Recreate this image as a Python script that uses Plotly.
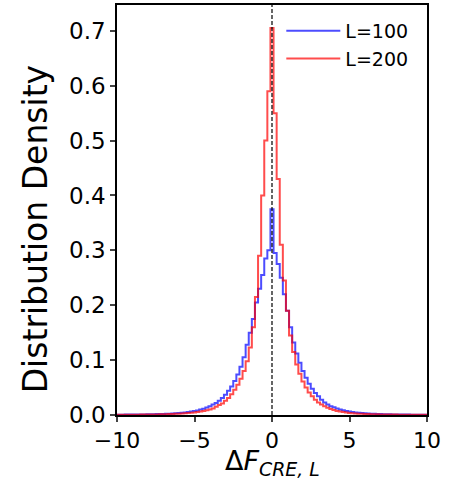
import numpy as np
import plotly.graph_objects as go

# Bin centres (width 0.2, centred on 0)
BIN_WIDTH = 0.2
CENTERS = np.round(np.arange(-10.0, 10.0001, BIN_WIDTH), 1)

# L=100 (blue) densities: centre bin, left side (from -0.2 outward), right side (from +0.2 outward)
BLUE_CENTER = 0.375
BLUE_LEFT = [0.30, 0.285, 0.255, 0.23, 0.205, 0.175, 0.15, 0.128, 0.105, 0.088,
             0.074, 0.062, 0.052, 0.044, 0.037, 0.031, 0.026, 0.022, 0.019, 0.016,
             0.0135, 0.0115, 0.0098, 0.0084, 0.0072, 0.0062, 0.0054, 0.0047, 0.0041, 0.0036,
             0.0032, 0.0028, 0.0025, 0.0022, 0.0020, 0.0018, 0.0016, 0.0014, 0.0013, 0.0012,
             0.0011, 0.0010, 0.0009, 0.0008, 0.0008, 0.0007, 0.0007, 0.0006, 0.0006, 0.0005]
BLUE_RIGHT = [0.295, 0.275, 0.25, 0.22, 0.19, 0.16, 0.132, 0.112, 0.095, 0.080,
              0.068, 0.057, 0.048, 0.040, 0.034, 0.028, 0.023, 0.019, 0.016, 0.014,
              0.012, 0.010, 0.0085, 0.0072, 0.0062, 0.0053, 0.0046, 0.0040, 0.0035, 0.0031,
              0.0027, 0.0024, 0.0021, 0.0019, 0.0017, 0.0015, 0.0014, 0.0012, 0.0011, 0.0010,
              0.0009, 0.0008, 0.0008, 0.0007, 0.0006, 0.0006, 0.0005, 0.0005, 0.0005, 0.0004]

# L=200 (red) densities
RED_CENTER = 0.705
RED_LEFT = [0.59, 0.50, 0.40, 0.29, 0.215, 0.16, 0.123, 0.098, 0.080, 0.066,
            0.055, 0.046, 0.038, 0.031, 0.026, 0.021, 0.018, 0.015, 0.012, 0.010,
            0.0085, 0.0072, 0.0062, 0.0053, 0.0046, 0.0040, 0.0035, 0.0031, 0.0027, 0.0024,
            0.0021, 0.0019, 0.0017, 0.0015, 0.0013, 0.0012, 0.0011, 0.0010, 0.0009, 0.0008,
            0.0007, 0.0007, 0.0006, 0.0006, 0.0005, 0.0005, 0.0004, 0.0004, 0.0004, 0.0003]
RED_RIGHT = [0.55, 0.43, 0.31, 0.245, 0.19, 0.145, 0.115, 0.092, 0.075, 0.061,
             0.050, 0.041, 0.034, 0.028, 0.023, 0.019, 0.016, 0.013, 0.011, 0.009,
             0.0075, 0.0063, 0.0053, 0.0045, 0.0038, 0.0033, 0.0029, 0.0025, 0.0022, 0.0019,
             0.0017, 0.0015, 0.0013, 0.0012, 0.0011, 0.0010, 0.0009, 0.0008, 0.0007, 0.0007,
             0.0006, 0.0006, 0.0005, 0.0005, 0.0004, 0.0004, 0.0004, 0.0003, 0.0003, 0.0003]

X_TICKS = [-10, -5, 0, 5, 10]
Y_TICKS = [0.0, 0.1, 0.2, 0.3, 0.4, 0.5, 0.6, 0.7]
X_TITLE = "Δ<i>F</i><sub><i>CRE, L</i></sub>"
Y_TITLE = "Distribution Density"

blue = BLUE_LEFT[::-1] + [BLUE_CENTER] + BLUE_RIGHT
red = RED_LEFT[::-1] + [RED_CENTER] + RED_RIGHT


def step_xy(centers, vals):
    edges = list(centers - BIN_WIDTH / 2) + [centers[-1] + BIN_WIDTH / 2]
    xs = [edges[0]] + edges + [edges[-1]]
    ys = [0] + list(vals) + [vals[-1], 0]
    return xs, ys


FONT = "DejaVu Sans"
fig = go.Figure()
for name, vals, col in [("L=100", blue, "rgba(0,0,255,0.7)"), ("L=200", red, "rgba(255,0,0,0.7)")]:
    xs, ys = step_xy(CENTERS, vals)
    fig.add_trace(go.Scatter(x=xs, y=ys, mode="lines", name=name,
                             line=dict(color=col, width=2, shape="hv")))

fig.add_shape(type="line", x0=0, x1=0, xref="x", y0=0, y1=1, yref="paper",
              line=dict(color="black", width=1.2, dash="4px,2px"), layer="above")

# Axis titles placed as annotations for precise positioning
fig.add_annotation(text=X_TITLE, xref="paper", yref="paper", x=0.5, y=-0.117,
                   xanchor="center", yanchor="middle", showarrow=False,
                   font=dict(size=27, family=FONT, color="black"))
fig.add_annotation(text=Y_TITLE, xref="paper", yref="paper", x=-0.263, y=0.454,
                   xanchor="center", yanchor="middle", showarrow=False, textangle=-90,
                   font=dict(size=33, family=FONT, color="black"))

fig.update_layout(
    width=464, height=493,
    margin=dict(l=117, r=37, t=5, b=78),
    plot_bgcolor="white", paper_bgcolor="white",
    font=dict(family=FONT, color="black", size=20),
    showlegend=True,
    legend=dict(x=0.53, y=0.983, xanchor="left", yanchor="top",
                bgcolor="rgba(255,255,255,0)", font=dict(size=19, family=FONT),
                itemwidth=54, tracegroupgap=0),
)
fig.update_xaxes(range=[-10, 10], tickvals=X_TICKS, ticks="outside", ticklen=5, tickwidth=1.5,
                 showline=True, linewidth=1.5, linecolor="black", mirror=True,
                 showgrid=False, zeroline=False, tickfont=dict(size=22), automargin=False)
fig.update_yaxes(range=[0, 0.747], tickvals=Y_TICKS, tickformat=".1f", ticks="outside",
                 ticklen=5, tickwidth=1.5,
                 showline=True, linewidth=1.5, linecolor="black", mirror=True,
                 showgrid=False, zeroline=False, tickfont=dict(size=23), automargin=False)

fig.write_html("out.html", config={"displayModeBar": False},
               post_script="document.body.style.margin='0';")
